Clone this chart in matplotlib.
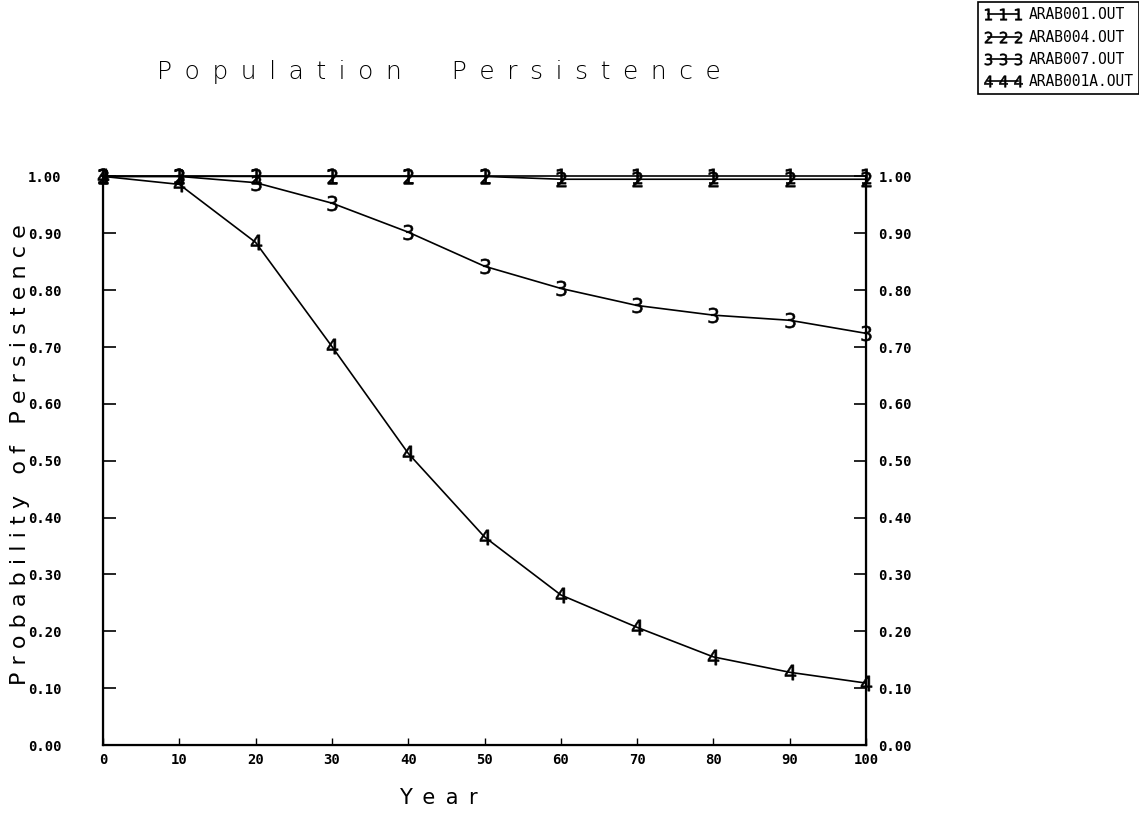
import matplotlib.pyplot as plt
from matplotlib.ticker import FixedLocator

# Persistence probability per run, sampled every 10 years
years = [0, 10, 20, 30, 40, 50, 60, 70, 80, 90, 100]
arab001 = [1.00, 1.00, 1.00, 1.00, 1.00, 1.00, 1.00, 1.00, 1.00, 1.00, 1.00]
arab004 = [1.00, 1.00, 1.00, 1.00, 1.00, 1.00, 0.995, 0.995, 0.995, 0.995, 0.995]
arab007 = [1.00, 1.00, 0.989, 0.953, 0.902, 0.842, 0.803, 0.773, 0.756, 0.747, 0.724]
arab001a = [1.00, 0.986, 0.884, 0.701, 0.513, 0.366, 0.264, 0.207, 0.155, 0.128, 0.109]

series = [('ARAB001.OUT', '1', arab001),
          ('ARAB004.OUT', '2', arab004),
          ('ARAB007.OUT', '3', arab007),
          ('ARAB001A.OUT', '4', arab001a)]

y_ticks = [0.0, 0.1, 0.2, 0.3, 0.4, 0.5, 0.6, 0.7, 0.8, 0.9, 1.0]
y_labels = ['%.2f' % v for v in y_ticks]
x_ticks = years


def spaced(text, word_gap=4):
    # widen the letter spacing with en spaces
    words = text.split(' ')
    return ('\u2002' * word_gap).join('\u2002'.join(w) for w in words)


fig = plt.figure(figsize=(11.39, 8.4), dpi=100)
ax = fig.add_axes([0.0904, 0.113, 0.670, 0.677])

handles = []
for name, digit, vals in series:
    h, = ax.plot(years, vals, color='black', lw=1.2,
                 marker='$%s$' % digit, markersize=11, markeredgewidth=0.4,
                 clip_on=False, label=name, zorder=3)
    handles.append(h)

ax.set_xlim(0, 100)
ax.set_ylim(0, 1.0)
ax.spines['top'].set_visible(False)
for s in ['left', 'right', 'bottom']:
    ax.spines[s].set_linewidth(1.6)

tick_font = dict(family='DejaVu Sans Mono', weight='bold', size=10)
ax.xaxis.set_major_locator(FixedLocator(x_ticks))
ax.set_xticklabels([str(v) for v in x_ticks], fontdict=tick_font)
ax.yaxis.set_major_locator(FixedLocator(y_ticks))
ax.set_yticklabels(y_labels, fontdict=tick_font)
ax.tick_params(axis='y', direction='in', length=9, width=1.2, pad=30)
ax.tick_params(axis='x', direction='in', length=5, width=1.0, pad=6)

# right-hand scale repeats the probability axis
ax2 = ax.twinx()
ax2.set_ylim(0, 1.0)
ax2.spines['top'].set_visible(False)
ax2.yaxis.set_major_locator(FixedLocator(y_ticks))
ax2.set_yticklabels(y_labels, fontdict=tick_font)
ax2.tick_params(axis='y', direction='in', length=9, width=1.2, pad=9)

ax.set_title(spaced('Population Persistence'),
             fontsize=18, family='DejaVu Sans', fontweight='light', pad=70, x=0.44)
ax.set_xlabel(spaced('Year'), fontsize=15, family='DejaVu Sans')
ax.xaxis.set_label_coords(0.44, -0.075)
ax.set_ylabel('P r o b a b i l i t y   o f   P e r s i s t e n c e',
              fontsize=16, family='DejaVu Sans')
ax.yaxis.set_label_coords(-0.096, 0.51)

leg = fig.legend(handles=handles, loc='upper right', bbox_to_anchor=(1.006, 1.006),
                 numpoints=3, fancybox=False, edgecolor='black', framealpha=1,
                 prop=dict(family='DejaVu Sans Mono', size=10.5),
                 handlelength=2.7, handletextpad=0.4, borderpad=0.35,
                 labelspacing=0.5, markerscale=0.75)
leg.get_frame().set_linewidth(1.2)

fig.savefig('out.png', dpi=100)
